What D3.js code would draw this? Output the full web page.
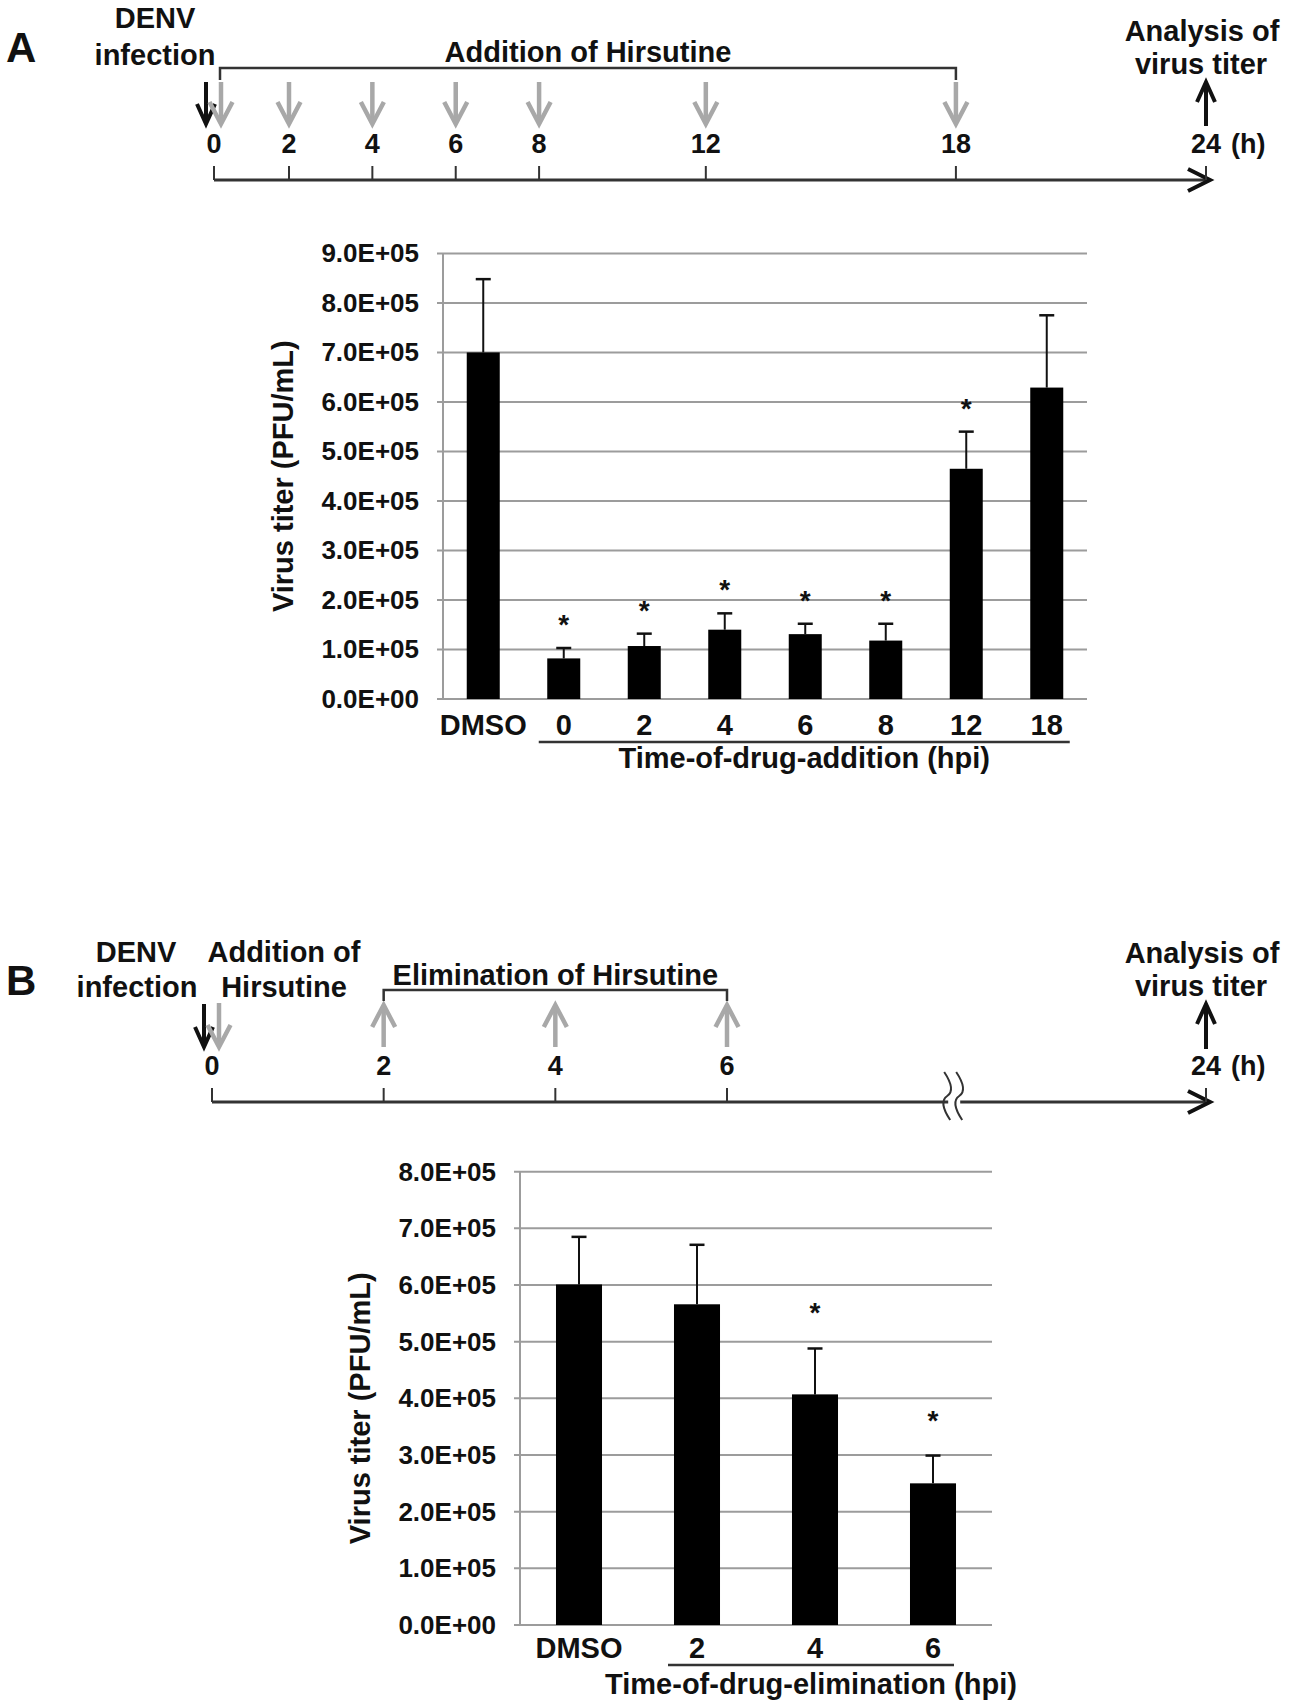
<!DOCTYPE html>
<html>
<head>
<meta charset="utf-8">
<script src="https://cdn.jsdelivr.net/npm/d3@7"></script>
<style>
  body { margin: 0; background: #fff; }
  svg { display: block; }
  text { font-family: "Liberation Sans", Arial, sans-serif; font-weight: bold; fill: #111; }
</style>
</head>
<body>
<svg id="fig" width="1293" height="1708"></svg>
<script>
// ---- data: panel A (time-of-drug-addition) ----
const catsA = ['DMSO', '0', '2', '4', '6', '8', '12', '18'];
const meansA = [7.0e5, 0.82e5, 1.07e5, 1.40e5, 1.31e5, 1.18e5, 4.65e5, 6.29e5];
const errA = [1.48e5, 0.21e5, 0.25e5, 0.33e5, 0.21e5, 0.34e5, 0.75e5, 1.46e5];
const sigA = [false, true, true, true, true, true, true, false];
const yTicksA = [0, 1e5, 2e5, 3e5, 4e5, 5e5, 6e5, 7e5, 8e5, 9e5];

// ---- data: panel B (time-of-drug-elimination) ----
const catsB = ['DMSO', '2', '4', '6'];
const meansB = [6.01e5, 5.66e5, 4.07e5, 2.50e5];
const errB = [0.84e5, 1.05e5, 0.81e5, 0.49e5];
const sigB = [false, false, true, true];
const yTicksB = [0, 1e5, 2e5, 3e5, 4e5, 5e5, 6e5, 7e5, 8e5];

// ---- timelines ----
const hoursA = [0, 2, 4, 6, 8, 12, 18, 24];
const addHoursA = [0, 2, 4, 6, 8, 12, 18];
const hoursB = [0, 2, 4, 6, 24];
const elimHoursB = [2, 4, 6];
const breakHourB = 14.5;

const GRAY = '#a8a8a8';
const GRID = '#9c9c9c';
const svg = d3.select('#fig');

// excel-like scientific format, e.g. 9.0E+05
function sci(v) {
	if (v === 0) return '0.0E+00';
	const e = Math.floor(Math.log10(v));
	const m = v / Math.pow(10, e);
	return m.toFixed(1) + 'E+' + String(e).padStart(2, '0');
}

function label(g, x, y, txt, size, anchor) {
	return g.append('text')
		.attr('x', x).attr('y', y)
		.attr('text-anchor', anchor || 'middle')
		.style('font-size', size + 'px')
		.text(txt);
}

// vertical arrow with an open "V" head
function arrow(g, x, yTail, yTip, color, width, half, len) {
	const dir = yTip > yTail ? -1 : 1;
	g.append('line')
		.attr('x1', x).attr('x2', x)
		.attr('y1', yTail).attr('y2', yTip + dir * 1)
		.attr('stroke', color).attr('stroke-width', width);
	g.append('path')
		.attr('d', `M${x - half},${yTip + dir * len}L${x},${yTip}L${x + half},${yTip + dir * len}`)
		.attr('fill', 'none')
		.attr('stroke', color).attr('stroke-width', width)
		.attr('stroke-linejoin', 'miter');
}

function timeline(o) {
	const g = svg.append('g');
	const x = d3.scaleLinear().domain(o.domain).range(o.range);
	const y = o.axisY;

	g.append('line')
		.attr('x1', x(0)).attr('x2', x(24) + 2)
		.attr('y1', y).attr('y2', y)
		.attr('stroke', '#333').attr('stroke-width', 3);
	g.append('path')
		.attr('d', `M${x(24) - 18},${y - 11}L${x(24) + 4},${y}L${x(24) - 18},${y + 11}`)
		.attr('fill', 'none').attr('stroke', '#111').attr('stroke-width', 4);

	g.selectAll('line.tick').data(o.hours).join('line')
		.attr('class', 'tick')
		.attr('x1', d => x(d)).attr('x2', d => x(d))
		.attr('y1', y - 14).attr('y2', y)
		.attr('stroke', '#333').attr('stroke-width', 2);

	g.selectAll('text.hr').data(o.hours).join('text')
		.attr('class', 'hr')
		.attr('x', d => x(d)).attr('y', y - 27)
		.attr('text-anchor', 'middle')
		.style('font-size', '27px')
		.text(d => d);
	label(g, x(24) + 25, y - 27, '(h)', 27, 'start');

	// DENV infection (black down arrow at 0)
	arrow(g, x(0) - 8, o.arrowTop, o.arrowBot, '#111', 4, 9, 20);
	// virus titer analysis (black up arrow at 24)
	arrow(g, x(24), o.arrowBot + 2, o.arrowTop, '#111', 4, 9, 20);

	label(g, x(24) - 4, y - 139, 'Analysis of', 29);
	label(g, x(24) - 5, y - 106, 'virus titer', 29);
	return { g, x };
}

// ---------------- Panel A timeline ----------------
const tA = timeline({
	domain: [0, 2, 24], range: [214, 289, 1206], axisY: 180,
	hours: hoursA, arrowTop: 82, arrowBot: 124
});
addHoursA.forEach(h => {
	arrow(tA.g, tA.x(h) + (h === 0 ? 7 : 0), 82, 124, GRAY, 4.5, 11.5, 22);
});
tA.g.append('path')
	.attr('d', `M${tA.x(0) + 6},80V68H${tA.x(18)}V80`)
	.attr('fill', 'none').attr('stroke', '#333').attr('stroke-width', 2.5);
label(tA.g, (tA.x(0) + 6 + tA.x(18)) / 2, 62, 'Addition of Hirsutine', 29);
label(tA.g, 155, 28, 'DENV', 29);
label(tA.g, 155, 65, 'infection', 29);
label(tA.g, 6, 62, 'A', 42, 'start');

// ---------------- Panel B timeline ----------------
const tB = timeline({
	domain: [0, 6, 24], range: [212, 727, 1206], axisY: 1102,
	hours: hoursB, arrowTop: 1004, arrowBot: 1047
});
arrow(tB.g, tB.x(0) + 7, 1003, 1047, GRAY, 4.5, 11.5, 22);
elimHoursB.forEach(h => {
	arrow(tB.g, tB.x(h), 1047, 1005, GRAY, 4.5, 11.5, 22);
});
tB.g.append('path')
	.attr('d', `M${tB.x(2)},1001V990H${tB.x(6)}V1001`)
	.attr('fill', 'none').attr('stroke', '#333').attr('stroke-width', 2.5);
label(tB.g, (tB.x(2) + tB.x(6)) / 2, 985, 'Elimination of Hirsutine', 29);
label(tB.g, 136, 962, 'DENV', 29);
label(tB.g, 137, 997, 'infection', 29);
label(tB.g, 284, 962, 'Addition of', 29);
label(tB.g, 284, 997, 'Hirsutine', 29);
label(tB.g, 6, 995, 'B', 42, 'start');

// axis break marks
{
	const bx = tB.x(breakHourB);
	const wave = dx => `M${bx + dx - 3},1072Q${bx + dx + 9},1090 ${bx + dx},1096Q${bx + dx - 9},1102 ${bx + dx + 3},1120`;
	tB.g.append('rect').attr('x', bx - 5).attr('y', 1095).attr('width', 12).attr('height', 14).attr('fill', '#fff');
	[-6, 6].forEach(dx => {
		tB.g.append('path').attr('d', wave(dx))
			.attr('fill', 'none').attr('stroke', '#333').attr('stroke-width', 2);
	});
}

// ---------------- bar charts ----------------
function barChart(o) {
	const g = svg.append('g');
	const x = d3.scaleBand().domain(o.cats).range([o.x0, o.x1])
		.paddingInner(o.pad).paddingOuter(o.pad / 2);
	const y = d3.scaleLinear().domain([0, o.yMax]).range([o.y0, o.y1]);

	// gridlines
	g.selectAll('line.grid').data(o.ticks).join('line')
		.attr('class', 'grid')
		.attr('x1', o.x0 - 6).attr('x2', o.x1)
		.attr('y1', d => y(d)).attr('y2', d => y(d))
		.attr('stroke', GRID).attr('stroke-width', 2);
	g.append('line')
		.attr('x1', o.x0).attr('x2', o.x0)
		.attr('y1', o.y1).attr('y2', o.y0)
		.attr('stroke', GRID).attr('stroke-width', 2);

	// tick labels
	const ax = g.append('g')
		.attr('transform', `translate(${o.x0},0)`)
		.call(d3.axisLeft(y).tickValues(o.ticks).tickFormat(sci).tickSize(0).tickPadding(24));
	ax.select('.domain').remove();
	ax.selectAll('text')
		.style('font-size', '26px')
		.style('font-family', '"Liberation Sans", Arial, sans-serif')
		.attr('fill', '#111');

	const rows = o.cats.map((c, i) => ({ c, m: o.means[i], e: o.errs[i], s: o.sig[i] }));
	const cx = d => x(d.c) + x.bandwidth() / 2;

	// error bars (upper only)
	g.selectAll('line.err').data(rows).join('line')
		.attr('class', 'err')
		.attr('x1', cx).attr('x2', cx)
		.attr('y1', d => y(d.m)).attr('y2', d => y(d.m + d.e))
		.attr('stroke', '#111').attr('stroke-width', 2);
	g.selectAll('line.cap').data(rows).join('line')
		.attr('class', 'cap')
		.attr('x1', d => cx(d) - 7.5).attr('x2', d => cx(d) + 7.5)
		.attr('y1', d => y(d.m + d.e)).attr('y2', d => y(d.m + d.e))
		.attr('stroke', '#111').attr('stroke-width', 2.5);

	g.selectAll('rect.bar').data(rows).join('rect')
		.attr('class', 'bar')
		.attr('x', d => x(d.c)).attr('width', x.bandwidth())
		.attr('y', d => y(d.m)).attr('height', d => o.y0 - y(d.m))
		.attr('fill', '#000');

	g.selectAll('text.star').data(rows.filter(d => d.s)).join('text')
		.attr('class', 'star')
		.attr('x', cx)
		.attr('y', d => y(d.m + d.e) - o.starGap)
		.attr('text-anchor', 'middle')
		.style('font-size', '28px')
		.text('*');

	// category labels
	g.selectAll('text.cat').data(rows).join('text')
		.attr('class', 'cat')
		.attr('x', cx).attr('y', o.y0 + o.catDy)
		.attr('text-anchor', 'middle')
		.style('font-size', '29px')
		.text(d => d.c);

	// group underline + axis title
	const first = rows[1], last = rows[rows.length - 1];
	const ux0 = cx(first) - o.lineL, ux1 = cx(last) + o.lineR;
	g.append('line')
		.attr('x1', ux0).attr('x2', ux1)
		.attr('y1', o.y0 + o.lineDy).attr('y2', o.y0 + o.lineDy)
		.attr('stroke', '#333').attr('stroke-width', 2.5);
	label(g, (ux0 + ux1) / 2, o.y0 + o.titleDy, o.xTitle, 29);

	g.append('text')
		.attr('transform', `translate(${o.x0 - 150},${(o.y0 + o.y1) / 2 + o.yLabShift}) rotate(-90)`)
		.attr('text-anchor', 'middle')
		.style('font-size', '29px')
		.text('Virus titer (PFU/mL)');
}

barChart({
	cats: catsA, means: meansA, errs: errA, sig: sigA, ticks: yTicksA, yMax: 9e5,
	x0: 443, x1: 1087, y0: 699, y1: 253.4, pad: 0.59,
	starGap: 14, catDy: 36, lineDy: 43, titleDy: 69, lineL: 25, lineR: 23, yLabShift: 0,
	xTitle: 'Time-of-drug-addition (hpi)'
});

barChart({
	cats: catsB, means: meansB, errs: errB, sig: sigB, ticks: yTicksB, yMax: 8e5,
	x0: 520, x1: 992, y0: 1625, y1: 1171.7, pad: 0.61,
	starGap: 26, catDy: 33, lineDy: 40, titleDy: 69, lineL: 29, lineR: 21, yLabShift: 10,
	xTitle: 'Time-of-drug-elimination (hpi)'
});
</script>
</body>
</html>
